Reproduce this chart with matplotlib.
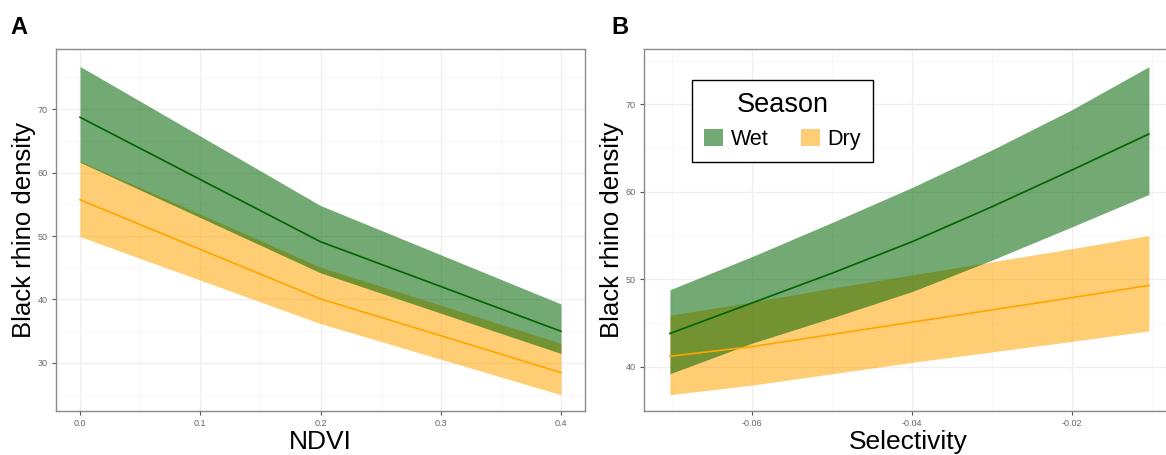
import matplotlib
matplotlib.use('Agg')
import matplotlib.pyplot as plt
from matplotlib.patches import Patch
from matplotlib.ticker import MultipleLocator

plt.rcParams['font.family'] = ['Liberation Sans', 'DejaVu Sans']

# panel A: NDVI
ndvi = [0.0, 0.2, 0.4]
wet_a = [68.7, 49.1, 35.0]
wet_a_lo = [61.6, 44.2, 31.5]
wet_a_hi = [76.7, 54.8, 39.3]
dry_a = [55.7, 40.1, 28.5]
dry_a_lo = [49.9, 36.2, 25.0]
dry_a_hi = [61.8, 45.1, 33.1]

# panel B: selectivity
sel = [-0.0703, -0.06, -0.05, -0.04, -0.03, -0.02, -0.0104]
wet_b = [43.8, 47.3, 50.7, 54.3, 58.3, 62.5, 66.6]
wet_b_lo = [39.2, 42.7, 45.6, 48.6, 52.2, 56.0, 59.7]
wet_b_hi = [48.8, 52.6, 56.5, 60.5, 64.8, 69.4, 74.3]
dry_b = [41.2, 42.3, 43.7, 45.1, 46.5, 47.9, 49.3]
dry_b_lo = [36.8, 37.9, 39.2, 40.5, 41.7, 42.9, 44.1]
dry_b_hi = [45.9, 47.4, 49.0, 50.5, 52.0, 53.5, 55.0]

seasons = ['Wet', 'Dry']

green_fill = (0.0, 100 / 255, 0.0)
green_line = '#006400'
orange_fill = '#FFA500'
orange_line = '#FFA500'
alpha = 0.55
W, H = 1166, 455


def style_axes(ax):
    for s in ax.spines.values():
        s.set_color('#8a8a8a')
        s.set_linewidth(1.0)
    ax.tick_params(which='major', length=3, width=0.8, color='#555555',
                   labelsize=6.5, labelcolor='#666666', pad=3)
    ax.tick_params(which='minor', length=0)
    ax.grid(which='major', color='#eeeeee', linewidth=0.9)
    ax.grid(which='minor', color='#f6f6f6', linewidth=0.6)
    ax.set_axisbelow(True)


def draw(ax, x, w, wlo, whi, d, dlo, dhi):
    ax.fill_between(x, dlo, dhi, color=orange_fill, alpha=alpha, linewidth=0)
    ax.plot(x, d, color=orange_line, linewidth=1.2)
    ax.fill_between(x, wlo, whi, color=green_fill, alpha=alpha, linewidth=0)
    ax.plot(x, w, color=green_line, linewidth=1.2)


fig = plt.figure(figsize=(W / 100, H / 100), dpi=100)

axA = fig.add_axes([56 / W, 1 - 411 / H, (585 - 56) / W, (411 - 49) / H])
draw(axA, ndvi, wet_a, wet_a_lo, wet_a_hi, dry_a, dry_a_lo, dry_a_hi)
axA.set_xlim(-0.02, 0.42)
axA.set_ylim(22.44, 79.45)
axA.xaxis.set_minor_locator(MultipleLocator(0.05))
axA.yaxis.set_major_locator(MultipleLocator(10))
axA.yaxis.set_minor_locator(MultipleLocator(5))
axA.set_xticks([0.0, 0.1, 0.2, 0.3, 0.4])
axA.set_xticklabels(['0.0', '0.1', '0.2', '0.3', '0.4'])
style_axes(axA)
axA.set_xlabel('NDVI', fontsize=19, labelpad=1)
axA.set_ylabel('Black rhino density', fontsize=18.5, labelpad=1)

axB = fig.add_axes([644 / W, 1 - 411 / H, (1173 - 644) / W, (411 - 49) / H])
draw(axB, sel, wet_b, wet_b_lo, wet_b_hi, dry_b, dry_b_lo, dry_b_hi)
axB.set_xlim(-0.07354, -0.00739)
axB.set_ylim(34.94, 76.32)
axB.set_xticks([-0.06, -0.04, -0.02])
axB.set_xticklabels(['-0.06', '-0.04', '-0.02'])
axB.xaxis.set_minor_locator(MultipleLocator(0.01))
axB.yaxis.set_major_locator(MultipleLocator(10))
axB.yaxis.set_minor_locator(MultipleLocator(5))
style_axes(axB)
axB.set_xlabel('Selectivity', fontsize=19, labelpad=1)
axB.set_ylabel('Black rhino density', fontsize=18.5, labelpad=1)

handles = [Patch(facecolor=green_fill, alpha=alpha, edgecolor='none'),
           Patch(facecolor=orange_fill, alpha=alpha, edgecolor='none')]
leg = axB.legend(handles, seasons, title='Season', ncol=2,
                 loc='upper left', bbox_to_anchor=(692 / W, 1 - 80 / H),
                 bbox_transform=fig.transFigure, borderaxespad=0,
                 fontsize=15.5, title_fontsize=19.5, fancybox=False,
                 edgecolor='black', framealpha=1, handlelength=0.9,
                 handleheight=0.9, handletextpad=0.35, columnspacing=1.5,
                 borderpad=0.55)
leg.get_frame().set_linewidth(1.0)

fig.text(10 / W, 1 - 34 / H, 'A', fontsize=17, fontweight='bold')
fig.text(611 / W, 1 - 34 / H, 'B', fontsize=17, fontweight='bold')

fig.savefig('out.png', dpi=100)
